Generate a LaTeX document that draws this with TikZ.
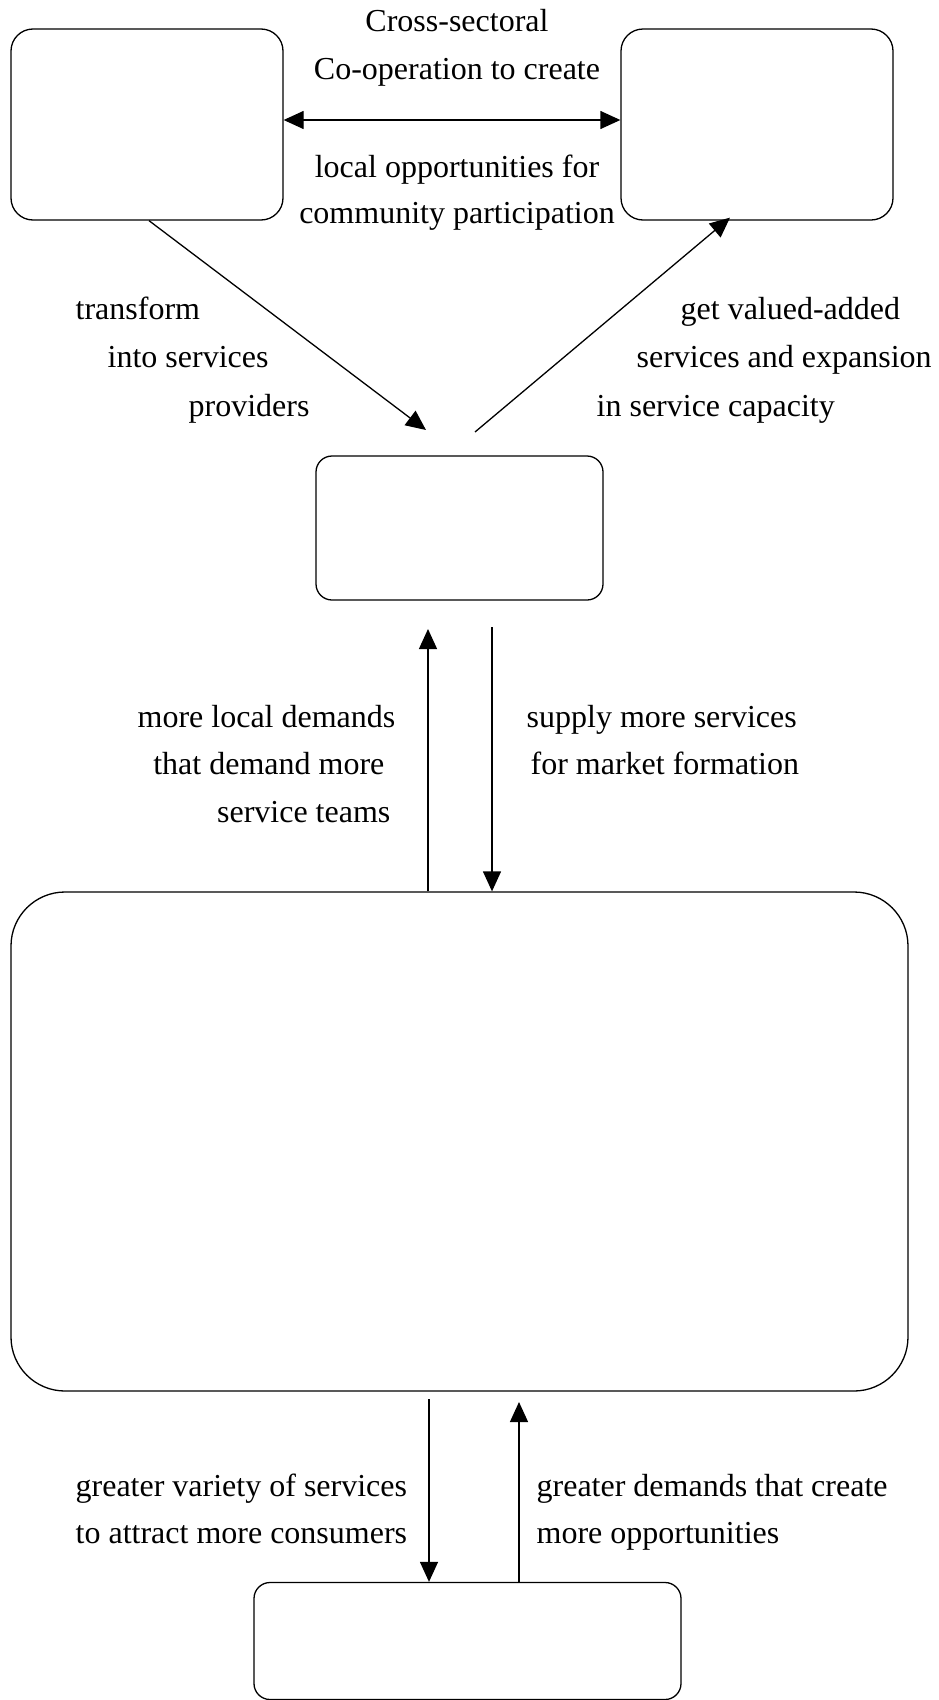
\documentclass[tikz,border=0pt]{standalone}
\usepackage{fontspec}
\setmainfont{Liberation Serif}
\usetikzlibrary{arrows.meta,calc}
\begin{document}
\begin{tikzpicture}[x=1pt,y=-1pt,
  line width=1.3pt,
  box/.style={draw,rectangle,rounded corners=#1,inner sep=0pt},
  box/.default=22pt,
  arr/.style={-{Triangle[length=20pt,width=18pt]}},
  darr/.style={{Triangle[length=20pt,width=18pt]}-{Triangle[length=20pt,width=18pt]}},
  lbl/.style={inner sep=0pt,font=\fontsize{32}{46}\selectfont}
]
\useasboundingbox (0,0) rectangle (939,1700);
% boxes
\node[box,minimum width=272pt,minimum height=191pt] (L) at (147,124.5) {};
\node[box,minimum width=272pt,minimum height=191pt] (R) at (757,124.5) {};
\node[box=16pt,minimum width=287pt,minimum height=144pt] (M) at (459.5,528) {};
\node[box=54pt,minimum width=897pt,minimum height=499pt] (B) at (459.5,1141.5) {};
\node[box=16pt,minimum width=427pt,minimum height=117pt] (S) at (467.5,1641) {};
% helper coordinates
\coordinate (dy) at (0,120);
\coordinate (p1) at (426,430);
\coordinate (p2) at (475,432);
\coordinate (u1) at (428,629);
\coordinate (d1) at (492,627);
\coordinate (d2) at (429,1399);
\coordinate (u2) at (519,1402);
% connectors
\draw[darr] (L.east |- dy) -- (R.west |- dy);
\draw[arr] ($(L.south)+(2,0)$) -- (p1);
\draw[arr] (p2) -- ($(R.south)+(-27,-3)$);
\draw[arr] (B.north -| u1) -- (u1);
\draw[arr] (d1) -- (B.north -| d1);
\draw[arr] (d2) -- (S.north -| d2);
\draw[arr] (S.north -| u2) -- (u2);
% labels
\node[lbl,anchor=base] (t1) at (457,31) {Cross-sectoral};
\node[lbl,anchor=base] (t2) at (457,79) {Co-operation to create};
\node[lbl,anchor=base] (t3) at (457,177) {local opportunities for};
\node[lbl,anchor=base] (t4) at (457,223) {community participation};
\node[lbl,anchor=base west] (a1) at (75,319) {transform};
\node[lbl,anchor=base west] (a2) at (107,367) {into services};
\node[lbl,anchor=base west] (a3) at (188,416) {providers};
\node[lbl,anchor=base west] (b1) at (680,319) {get valued-added};
\node[lbl,anchor=base west] (b2) at (636,367) {services and expansion};
\node[lbl,anchor=base west] (b3) at (596,416) {in service capacity};
\node[lbl,anchor=base east] (c1) at (396,727) {more local demands};
\node[lbl,anchor=base east] (c2) at (385,774) {that demand more};
\node[lbl,anchor=base east] (c3) at (391,822) {service teams};
\node[lbl,anchor=base west] (e1) at (526,727) {supply more services};
\node[lbl,anchor=base west] (e2) at (530,774) {for market formation};
\node[lbl,anchor=base west] (f1) at (75,1496) {greater variety of services};
\node[lbl,anchor=base west] (f2) at (75,1543) {to attract more consumers};
\node[lbl,anchor=base west] (g1) at (536,1496) {greater demands that create};
\node[lbl,anchor=base west] (g2) at (536,1543) {more opportunities};
\end{tikzpicture}
\end{document}
